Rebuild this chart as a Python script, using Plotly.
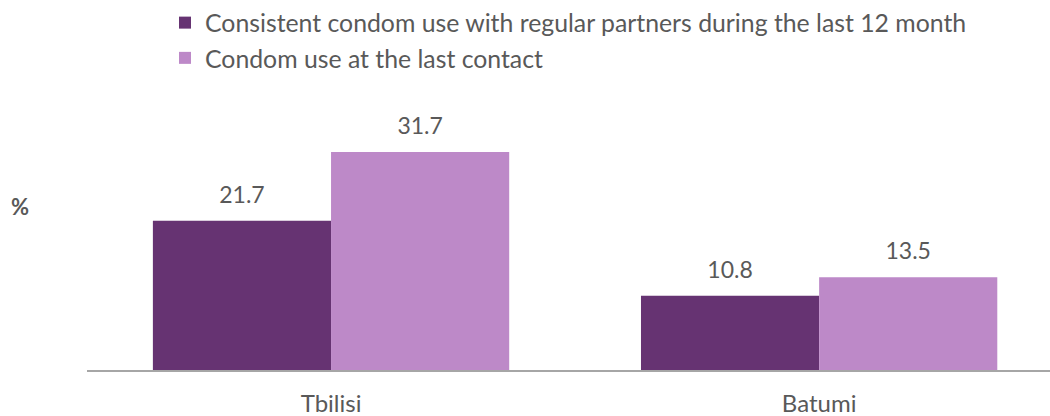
import plotly.graph_objects as go

categories = ["Tbilisi", "Batumi"]
series_names = ["Consistent condom use with regular partners during the last 12 month",
                "Condom use at the last contact"]
consistent_use = [21.7, 10.8]
last_contact = [31.7, 13.5]
colors = ["#663372", "#BD89C8"]

FONT = "Lato"
GRAY = "#595959"

fig = go.Figure()
for i, (name, vals, col) in enumerate(zip(series_names, [consistent_use, last_contact], colors)):
    fig.add_trace(go.Bar(
        name=name, x=categories, y=vals, marker_color=col, marker_line_width=0,
        offsetgroup=str(i), alignmentgroup="a",
    ))
for i, vals in enumerate([consistent_use, last_contact]):
    fig.add_trace(go.Scatter(
        x=categories, y=vals, mode="markers+text", text=[f"{v:.1f}" for v in vals],
        textposition="top center", marker=dict(size=18, color="rgba(0,0,0,0)"), cliponaxis=False,
        textfont=dict(family=FONT, size=23, color=GRAY),
        offsetgroup=str(i), alignmentgroup="a", showlegend=False, hoverinfo="skip",
    ))

fig.update_layout(
    width=1050, height=416,
    margin=dict(l=87, r=0, t=95, b=46, autoexpand=False),
    barmode="group", bargap=0.27, bargroupgap=0,
    scattermode="group", scattergap=0.27,
    plot_bgcolor="white", paper_bgcolor="white",
    font=dict(family=FONT, size=24, color=GRAY),
    showlegend=True,
    legend=dict(orientation="v", xref="paper", yref="container",
                x=0.081, y=1.0, xanchor="left", yanchor="top",
                font=dict(family=FONT, size=24.8, color=GRAY),
                itemwidth=30, tracegroupgap=0, traceorder="normal"),
    xaxis=dict(range=[-0.5, 1.473], showline=True, linecolor="#A6A6A6", linewidth=1.5,
               ticks="", tickfont=dict(family=FONT, size=24, color=GRAY), ticklabelstandoff=11),
    yaxis=dict(range=[0, 40.0], visible=False, showgrid=False),
    annotations=[dict(text="<b>%</b>", xref="paper", yref="paper", x=-0.0696, y=0.593,
                      xanchor="center", yanchor="middle",
                      showarrow=False, font=dict(family=FONT, size=22, color=GRAY))],
)
fig.write_html("out.html", post_script="document.body.style.margin='0';",
               config={"displayModeBar": False})
